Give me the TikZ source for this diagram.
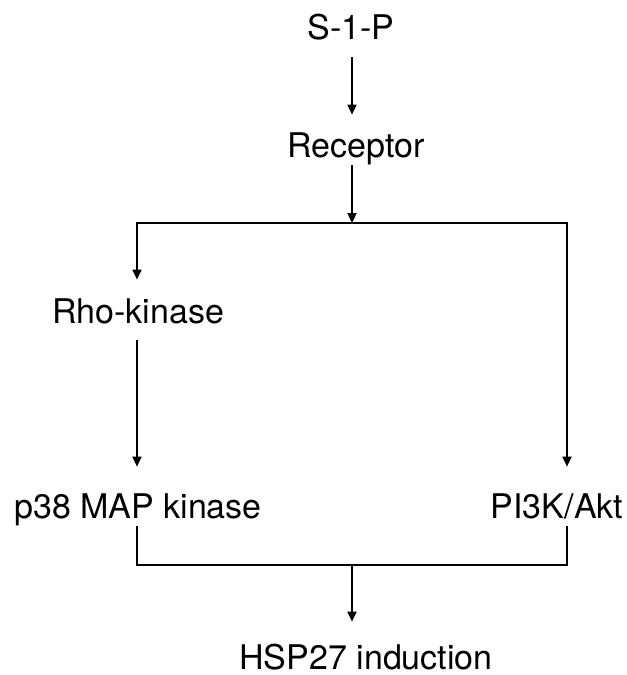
\documentclass[tikz,border=0pt]{standalone}
\usepackage{fontspec}
\setmainfont{TeX Gyre Heros}
\usepackage{tikz}
\usetikzlibrary{arrows.meta,calc}

\begin{document}
\begin{tikzpicture}[
  x=0.5bp, y=-0.5bp,
  font=\fontsize{17bp}{20bp}\selectfont,
  lbl/.style={anchor=base,text height=12bp,text depth=0pt,inner xsep=0pt,inner ysep=4bp},
  arr/.style={-{Triangle[length=5bp,width=4.6bp]},line width=0.7bp},
  link/.style={line width=0.7bp}
]
\useasboundingbox (0,0) rectangle (627,675);

\node[lbl] (s1p) at (351,40) {S-1-P};
\node[lbl] (rec) at (356,157) {Receptor};
\node[lbl] (rho) at (138,323) {Rho-kinase};
\node[lbl] (p38) at (138,518) {p38 MAP kinase};
\node[lbl] (pi3k) at (557,518) {PI3K/Akt};
\node[lbl] (hsp) at (366,669) {HSP27 induction};

\coordinate (fork) at (352,223);
\coordinate (join) at (352,565);

\draw[arr,shorten <=4.5bp,shorten >=5bp] (s1p.south -| fork) -- (rec.north -| fork);
\draw[arr] (rec.south -| fork) -- (fork);
\draw[arr,shorten >=5.5bp] (fork) -| ([xshift=-0.5bp]rho.north);
\draw[arr,shorten >=9.5bp] (fork) -| ([xshift=5bp]pi3k.north);
\draw[arr,shorten <=4.5bp,shorten >=9.5bp] ([xshift=-0.5bp]rho.south) -- ([xshift=-0.5bp]p38.north);
\draw[link] ([xshift=-0.5bp]p38.south) |- (join) -| ([xshift=5bp]pi3k.south);
\draw[arr,shorten >=7.5bp] (join) -- (hsp.north -| join);
\end{tikzpicture}
\end{document}
